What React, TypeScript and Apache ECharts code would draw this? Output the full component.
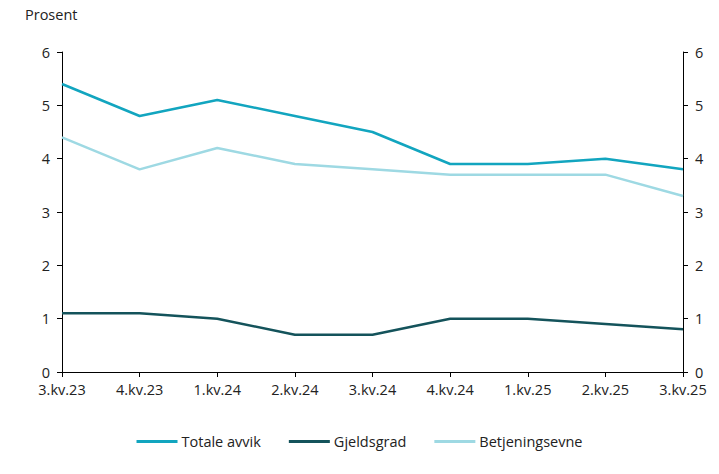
import React, { useEffect, useRef } from "react";
import * as echarts from "echarts";

const categories = ["3.kv.23", "4.kv.23", "1.kv.24", "2.kv.24", "3.kv.24", "4.kv.24", "1.kv.25", "2.kv.25", "3.kv.25"];
const totaleAvvik = [5.4, 4.8, 5.1, 4.8, 4.5, 3.9, 3.9, 4.0, 3.8];
const gjeldsgrad = [1.1, 1.1, 1.0, 0.7, 0.7, 1.0, 1.0, 0.9, 0.8];
const betjeningsevne = [4.4, 3.8, 4.2, 3.9, 3.8, 3.7, 3.7, 3.7, 3.3];
const unitLabel = "Prosent";

const FONT = "'Open Sans', 'Noto Sans', sans-serif";
const TXT = "#222222";
const FS = 14.5;

export default function App() {
  const ref = useRef<HTMLDivElement>(null);
  useEffect(() => {
    const chart = echarts.init(ref.current!, undefined, { renderer: "svg" });
    const yAxisCommon = {
      type: "value",
      min: 0,
      max: 6,
      interval: 1,
      axisLine: { show: true, lineStyle: { color: "#000", width: 1 } },
      axisTick: { show: true, length: 5, lineStyle: { color: "#000" } },
      splitLine: { show: false },
      axisLabel: { color: TXT, fontSize: FS, fontFamily: FONT, margin: 12 },
    };
    chart.setOption({
      animation: false,
      grid: { left: 62, right: 36, top: 52, bottom: 102, containLabel: false },
      graphic: [
        {
          type: "text",
          left: 25,
          top: 7,
          style: { text: unitLabel, fill: TXT, fontSize: FS, fontFamily: FONT },
        },
      ],
      legend: {
        bottom: 20,
        left: "center",
        itemWidth: 41,
        itemHeight: 3,
        itemGap: 28,
        icon: "rect",
        textStyle: { color: TXT, fontSize: FS, fontFamily: FONT, padding: [0, 0, 0, -1] },
        data: ["Totale avvik", "Gjeldsgrad", "Betjeningsevne"],
      },
      xAxis: {
        type: "category",
        boundaryGap: false,
        data: categories,
        axisLine: { lineStyle: { color: "#000", width: 1 } },
        axisTick: { show: true, length: 5, alignWithLabel: true, lineStyle: { color: "#000" } },
        axisLabel: { color: TXT, fontSize: FS, fontFamily: FONT, margin: 10 },
        splitLine: { show: false },
      },
      yAxis: [
        { ...yAxisCommon, position: "left" },
        { ...yAxisCommon, position: "right" },
      ],
      series: [
        {
          name: "Totale avvik",
          type: "line",
          data: totaleAvvik,
          symbol: "none",
          lineStyle: { color: "#12a5bf", width: 2.5 },
          itemStyle: { color: "#12a5bf" },
        },
        {
          name: "Gjeldsgrad",
          type: "line",
          data: gjeldsgrad,
          symbol: "none",
          lineStyle: { color: "#14535b", width: 2.5 },
          itemStyle: { color: "#14535b" },
        },
        {
          name: "Betjeningsevne",
          type: "line",
          data: betjeningsevne,
          symbol: "none",
          lineStyle: { color: "#9ed9e3", width: 2.5 },
          itemStyle: { color: "#9ed9e3" },
        },
      ],
    });
    return () => chart.dispose();
  }, []);
  return <div ref={ref} style={{ width: 719, height: 474, position: "absolute", left: 0, top: 0 }} />;
}
